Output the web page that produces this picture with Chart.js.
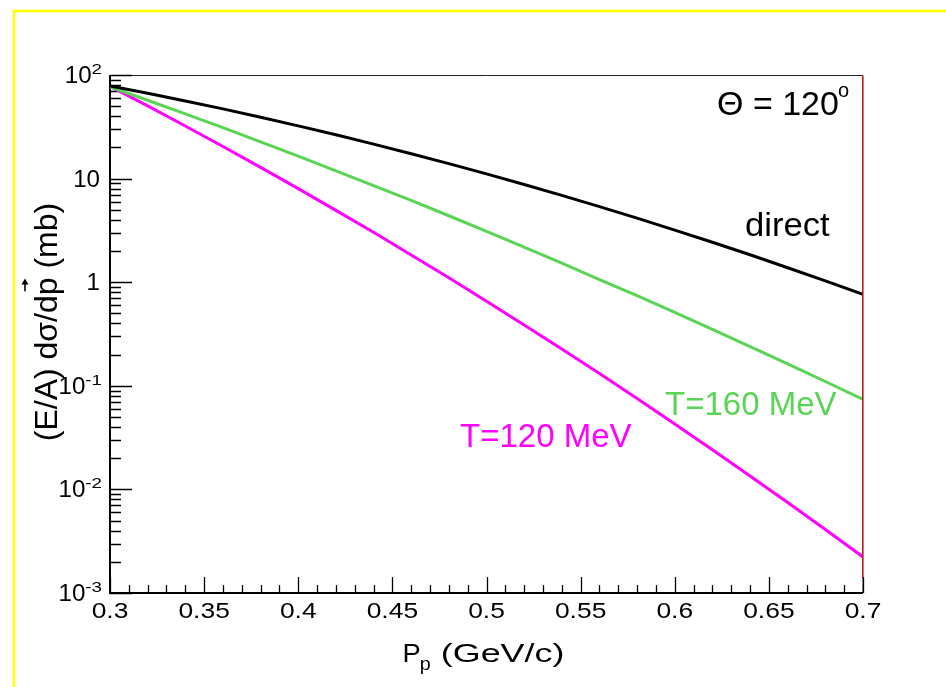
<!DOCTYPE html>
<html>
<head>
<meta charset="utf-8">
<title>Direct vs thermal spectra</title>
<script src="https://cdn.jsdelivr.net/npm/chart.js@4.4.1/dist/chart.umd.min.js"></script>
<style>
  html, body { margin: 0; padding: 0; background: #ffffff; }
  #wrap { position: relative; width: 946px; height: 687px; }
</style>
</head>
<body>
<div id="wrap"><canvas id="specChart"></canvas></div>
<script>
/* ---- data (x in GeV/c, y in mb) ---- */
const momenta    = [0.30, 0.32, 0.34, 0.36, 0.38, 0.40, 0.42, 0.44, 0.46, 0.48, 0.50,
                    0.52, 0.54, 0.56, 0.58, 0.60, 0.62, 0.64, 0.66, 0.68, 0.70];
const directXs   = [78.3, 66.6, 56.1, 47.1, 39.1, 32.3, 26.5, 21.5, 17.4, 13.96, 11.1,
                    8.77, 6.88, 5.37, 4.15, 3.18, 2.43, 1.84, 1.38, 1.03, 0.762];
const thermal160 = [76.9, 57.1, 42.2, 31.0, 22.6, 16.5, 11.9, 8.57, 6.15, 4.38, 3.10,
                    2.18, 1.53, 1.06, 0.741, 0.511, 0.351, 0.239, 0.163, 0.110, 0.0739];
const thermal120 = [77.8, 50.3, 32.2, 20.4, 12.85, 8.01, 4.94, 3.03, 1.834, 1.102, 0.656,
                    0.387, 0.2263, 0.1312, 0.0753, 0.0428, 0.02414, 0.01349, 0.00746, 0.00410, 0.00223];
const edgeX      = [0.70, 0.70];
const edgeY      = [100, 0.0014];

const xTicks      = [0.3, 0.35, 0.4, 0.45, 0.5, 0.55, 0.6, 0.65, 0.7];
const xTickLabels = ['0.3', '0.35', '0.4', '0.45', '0.5', '0.55', '0.6', '0.65', '0.7'];
const yTicks      = [100, 10, 1, 0.1, 0.01, 0.001];
const yTickBase   = ['10', '10', '1', '10', '10', '10'];
const yTickExp    = ['2', '', '', '-1', '-2', '-3'];

const GREEN   = '#59d454';
const MAGENTA = '#ff00ff';
const FONT    = '"Liberation Sans", Arial, Helvetica, sans-serif';

const pairs = (xs, ys) => xs.map((x, i) => ({ x: x, y: ys[i] }));

/* draw text stretched horizontally by sx, returns drawn width */
function drawText(ctx, text, x, y, size, sx, align, color) {
    ctx.save();
    ctx.font = size + 'px ' + FONT;
    const w = ctx.measureText(text).width * sx;
    let left = x;
    if (align === 'center') left = x - w / 2;
    else if (align === 'right') left = x - w;
    ctx.translate(left, y);
    ctx.scale(sx, 1);
    ctx.fillStyle = color || '#000';
    ctx.textAlign = 'left';
    ctx.textBaseline = 'alphabetic';
    ctx.fillText(text, 0, 0);
    ctx.restore();
    return w;
}
function textWidth(ctx, text, size, sx) {
    ctx.save();
    ctx.font = size + 'px ' + FONT;
    const w = ctx.measureText(text).width * sx;
    ctx.restore();
    return w;
}

/* ── frame, inward ticks, labels, page border ── */
const rootStyle = {
    id: 'rootStyle',
    beforeDraw(chart) {
        const ctx = chart.ctx;
        ctx.save();
        ctx.fillStyle = '#fff';
        ctx.fillRect(0, 0, chart.width, chart.height);
        ctx.strokeStyle = '#ffff00';
        ctx.lineWidth = 2.5;
        ctx.beginPath();
        ctx.moveTo(14, chart.height + 5);
        ctx.lineTo(14, 11);
        ctx.lineTo(chart.width + 5, 11);
        ctx.stroke();
        ctx.restore();
    },
    beforeDatasetsDraw(chart) {
        const ctx = chart.ctx;
        const a = chart.chartArea;
        const xs = chart.scales.x, ys = chart.scales.y;
        ctx.save();
        // frame
        ctx.strokeStyle = '#222';
        ctx.lineWidth = 1;
        ctx.beginPath();
        ctx.moveTo(a.left, a.top + 0.5);
        ctx.lineTo(a.right, a.top + 0.5);
        ctx.lineTo(a.right, a.bottom);
        ctx.stroke();
        ctx.strokeStyle = '#000';
        ctx.lineWidth = 2;
        ctx.beginPath();
        ctx.moveTo(a.left, a.top);
        ctx.lineTo(a.left, a.bottom);
        ctx.lineTo(a.right, a.bottom);
        ctx.stroke();

        // x ticks (inward)
        ctx.lineWidth = 1.3;
        ctx.beginPath();
        for (let i = 0; i <= 40; i++) {
            const v = 0.3 + i * 0.01;
            const px = Math.round(xs.getPixelForValue(v)) + 0.5;
            const len = (i % 5 === 0) ? 16 : 8;
            ctx.moveTo(px, a.bottom);
            ctx.lineTo(px, a.bottom - len);
        }
        // y ticks (inward, log)
        yTicks.forEach(d => {
            const py = Math.round(ys.getPixelForValue(d)) + 0.5;
            ctx.moveTo(a.left, py);
            ctx.lineTo(a.left + 22, py);
            if (d < 100) {
                for (let k = 2; k <= 9; k++) {
                    const my = Math.round(ys.getPixelForValue(k * d)) + 0.5;
                    ctx.moveTo(a.left, my);
                    ctx.lineTo(a.left + 11, my);
                }
            }
        });
        ctx.stroke();
        ctx.restore();
    },
    afterDraw(chart) {
        const ctx = chart.ctx;
        const a = chart.chartArea;
        const xs = chart.scales.x, ys = chart.scales.y;

        // x tick labels
        xTicks.forEach((v, i) => {
            drawText(ctx, xTickLabels[i], xs.getPixelForValue(v), a.bottom + 25, 22, 1.2, 'center');
        });

        // y tick labels with exponents
        yTicks.forEach((v, i) => {
            const py = ys.getPixelForValue(v);
            const base = yTickBase[i], ex = yTickExp[i];
            if (!ex) {
                drawText(ctx, base, a.left - 10, py + 8, 23, 1.05, 'right');
            } else {
                const wb = textWidth(ctx, base, 23, 1.05);
                const we = textWidth(ctx, ex, 15, 1.25);
                const right = a.left - 8;
                drawText(ctx, base, right - we - wb, py + 8, 23, 1.05, 'left');
                drawText(ctx, ex, right - we, py - 1, 15, 1.25, 'left');
            }
        });

        // x axis title: P_p (GeV/c)
        const cx = (a.left + a.right) / 2;
        const wP = textWidth(ctx, 'P', 26, 1.05);
        const wSub = textWidth(ctx, 'p', 18, 1.1);
        const wRest = textWidth(ctx, '(GeV/c)', 26, 1.38);
        const total = wP + wSub + 9 + wRest;
        let tx = cx - total / 2 - 3;
        drawText(ctx, 'P', tx, a.bottom + 69, 26, 1.05, 'left');
        tx += wP - 1;
        drawText(ctx, 'p', tx, a.bottom + 77, 18, 1.1, 'left');
        tx += wSub + 10;
        drawText(ctx, '(GeV/c)', tx, a.bottom + 69, 26, 1.38, 'left');

        // y axis title: (E/A) dσ/dp⃗ (mb), rotated
        ctx.save();
        ctx.translate(57, (a.top + a.bottom) / 2 - 12);
        ctx.rotate(-Math.PI / 2);
        ctx.font = '32px ' + FONT;
        ctx.fillStyle = '#000';
        ctx.textBaseline = 'alphabetic';
        const s1 = '(E/A) d\u03c3/d', s2 = 'p', s3 = ' (mb)';
        const w1 = ctx.measureText(s1).width, w2 = ctx.measureText(s2).width, w3 = ctx.measureText(s3).width;
        let lx = -(w1 + w2 + w3) / 2;
        ctx.fillText(s1, lx, 0);
        ctx.fillText(s2, lx + w1, 0);
        ctx.fillText(s3, lx + w1 + w2, 0);
        // vector arrow over p
        const ax0 = lx + w1 + 4, ax1 = lx + w1 + w2 - 3, ay = -32;
        ctx.strokeStyle = '#000';
        ctx.lineWidth = 1.6;
        ctx.beginPath();
        ctx.moveTo(ax0, ay);
        ctx.lineTo(ax1, ay);
        ctx.stroke();
        ctx.beginPath();
        ctx.moveTo(ax1 + 2, ay);
        ctx.lineTo(ax1 - 4, ay - 3.5);
        ctx.lineTo(ax1 - 4, ay + 3.5);
        ctx.closePath();
        ctx.fill();
        ctx.restore();

        // annotations
        const wTheta = drawText(ctx, '\u0398 = 120', 717, 115, 34, 1.0, 'left');
        drawText(ctx, 'o', 717 + wTheta - 1, 97, 20, 1.0, 'left');
        drawText(ctx, 'direct', 745, 236, 33, 1.05, 'left');
        drawText(ctx, 'T=160 MeV', 665, 415, 33, 1.0, 'left', GREEN);
        drawText(ctx, 'T=120 MeV', 460, 447, 33, 1.0, 'left', MAGENTA);
    }
};

new Chart(document.getElementById('specChart'), {
    type: 'line',
    data: {
        datasets: [
            { label: 'direct',    data: pairs(momenta, directXs),   borderColor: '#000000', borderWidth: 3, order: 1 },
            { label: 'T=160 MeV', data: pairs(momenta, thermal160), borderColor: GREEN,     borderWidth: 3, order: 2 },
            { label: 'T=120 MeV', data: pairs(momenta, thermal120), borderColor: MAGENTA,   borderWidth: 3, order: 3 },
            { label: 'edge',      data: pairs(edgeX, edgeY),        borderColor: '#ff0000', borderWidth: 2, order: 0 }
        ]
    },
    options: {
        responsive: true,
        maintainAspectRatio: false,
        animation: false,
        events: [],
        elements: { point: { radius: 0 }, line: { tension: 0, fill: false } },
        layout: { padding: { left: 110, top: 75, right: 83, bottom: 94 } },
        plugins: { legend: { display: false }, tooltip: { enabled: false } },
        scales: {
            x: { type: 'linear', display: false, min: 0.3, max: 0.7 },
            y: { type: 'logarithmic', display: false, min: 0.001, max: 100 }
        }
    },
    plugins: [rootStyle]
});
</script>
</body>
</html>
